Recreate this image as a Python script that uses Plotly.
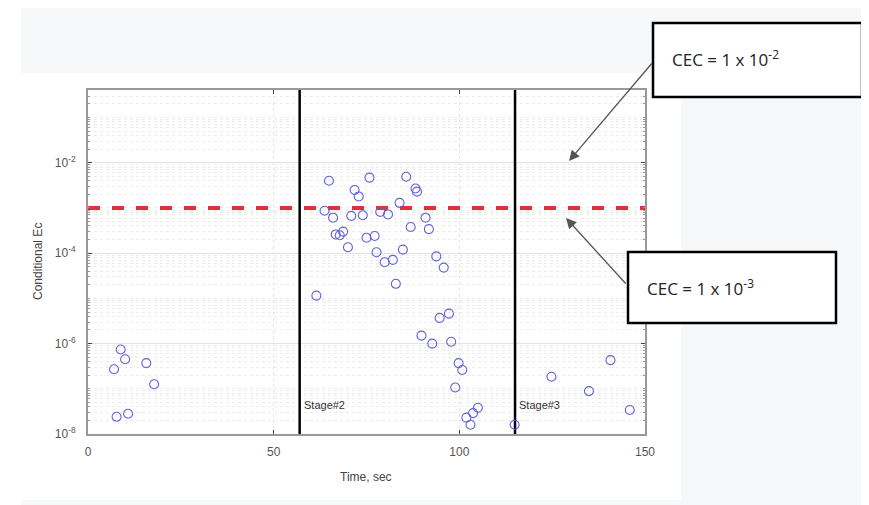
import plotly.graph_objects as go

# ---- data ----
time_sec = [7.0, 8.8, 10.0, 15.7, 17.8, 7.7, 10.8,
            61.5, 64.9, 75.8, 85.7, 71.8, 72.9, 88.2, 88.6, 83.9, 63.7, 66.0, 70.9,
            74.0, 78.7, 80.8, 66.7, 68.7, 67.8, 75.0, 77.2, 70.0, 77.7, 84.8, 79.9,
            82.1, 86.9, 90.9, 91.8, 93.8, 95.8, 82.9, 94.7, 97.2, 89.8, 92.7, 97.8,
            99.8, 100.8, 98.9, 105.0, 103.7, 101.9, 103.0,
            114.9, 124.8, 140.7, 134.9, 145.9]
cond_ec = [2.7e-7, 7.4e-7, 4.5e-7, 3.7e-7, 1.26e-7, 2.4e-8, 2.8e-8,
           1.15e-5, 4.0e-3, 4.7e-3, 4.9e-3, 2.5e-3, 1.8e-3, 2.7e-3, 2.3e-3, 1.3e-3, 8.7e-4, 6.1e-4, 6.7e-4,
           6.9e-4, 8.2e-4, 7.2e-4, 2.6e-4, 3.0e-4, 2.5e-4, 2.2e-4, 2.4e-4, 1.35e-4, 1.05e-4, 1.2e-4, 6.3e-5,
           7.1e-5, 3.8e-4, 6.1e-4, 3.4e-4, 8.5e-5, 4.8e-5, 2.1e-5, 3.7e-6, 4.6e-6, 1.5e-6, 1.0e-6, 1.1e-6,
           3.7e-7, 2.6e-7, 1.07e-7, 3.8e-8, 2.9e-8, 2.3e-8, 1.6e-8,
           1.6e-8, 1.85e-7, 4.3e-7, 8.9e-8, 3.4e-8]
cec_level = 1e-3
stage_times = [57, 115]
stage_labels = ["Stage#2", "Stage#3"]
x_ticks = [0, 50, 100, 150]
y_ticks = [1e-8, 1e-6, 1e-4, 1e-2]
y_tick_text = ["10<sup>-8</sup>", "10<sup>-6</sup>", "10<sup>-4</sup>", "10<sup>-2</sup>"]
callouts = ["CEC = 1 x 10<sup>-2</sup>", "CEC = 1 x 10<sup>-3</sup>"]

OFF = 8                      # page body margin
W, H = 869 - OFF, 505 - OFF
L, R, T, B = 88, 645, 90, 434   # plot area in screen pixels
def px(x):
    return (x - L) / (R - L)
def py(y):
    return (B - y) / (B - T)

fig = go.Figure()
fig.add_trace(go.Scatter(x=[0, 150], y=[cec_level, cec_level], mode="lines",
                         line=dict(color="#e0303a", width=4, dash="12px,12px"),
                         hoverinfo="skip", showlegend=False))
for t in stage_times:
    fig.add_trace(go.Scatter(x=[t, t], y=[1e-8, 10**-0.39], mode="lines",
                             line=dict(color="black", width=2.5),
                             hoverinfo="skip", showlegend=False))
fig.add_trace(go.Scatter(x=time_sec, y=cond_ec, mode="markers",
                         marker=dict(symbol="circle-open", size=9,
                                     color="#6262dc", line=dict(width=1.1)),
                         showlegend=False))

minor_vals = [k * 10.0 ** e for e in range(-8, 0) for k in range(2, 10)] + [10.0 ** e for e in (-7, -5, -3, -1)]
tickfont = dict(family="Liberation Sans", size=12, color="#555")
fig.update_xaxes(range=[0, 150], tickvals=x_ticks, ticks="inside", ticklen=4,
                 showline=True, linecolor="#999", linewidth=2, mirror="ticks",
                 showgrid=True, gridcolor="#e4e4e4", griddash="dot", zeroline=False,
                 tickfont=tickfont, ticklabelstandoff=6)
fig.update_yaxes(type="log", range=[-8, -0.39], tickvals=y_ticks, ticktext=y_tick_text,
                 ticks="inside", ticklen=4, showline=True, linecolor="#999", linewidth=2,
                 mirror="ticks", showgrid=True, gridcolor="#e2e2e2",
                 minor=dict(tickvals=minor_vals, showgrid=True, gridcolor="#ececec",
                            griddash="dot", ticks="inside", ticklen=2, tickcolor="#999"),
                 tickfont=tickfont, ticklabelstandoff=8)

shapes = [
    dict(type="rect", xref="paper", yref="paper", x0=px(21), x1=px(869), y0=py(505), y1=py(OFF),
         fillcolor="#f7f8fa", line=dict(width=0), layer="below"),
    dict(type="rect", xref="paper", yref="paper", x0=px(21), x1=px(681), y0=py(500), y1=py(73),
         fillcolor="white", line=dict(width=0), layer="below"),
    dict(type="rect", xref="paper", yref="paper", x0=px(653), x1=px(862), y0=py(97), y1=py(23),
         fillcolor="white", line=dict(color="black", width=2.5)),
    dict(type="rect", xref="paper", yref="paper", x0=px(628), x1=px(836), y0=py(323), y1=py(252),
         fillcolor="white", line=dict(color="black", width=2.5)),
]

annotations = [
    dict(text="Conditional Ec", xref="paper", yref="paper", x=px(38), y=py(262), textangle=-90,
         xanchor="center", yanchor="middle",
         showarrow=False, font=dict(family="Liberation Sans", size=12, color="#444")),
    dict(text="Time, sec", xref="paper", yref="paper", x=px(366), y=py(477),
         xanchor="center", yanchor="middle",
         showarrow=False, font=dict(family="Liberation Sans", size=12, color="#444")),
    dict(text=stage_labels[0], xref="x", yref="paper", x=stage_times[0], xshift=2, y=py(405),
         xanchor="left", yanchor="middle", showarrow=False,
         font=dict(family="Liberation Sans", size=11, color="#333")),
    dict(text=stage_labels[1], xref="x", yref="paper", x=stage_times[1], xshift=2, y=py(405),
         xanchor="left", yanchor="middle", showarrow=False,
         font=dict(family="Liberation Sans", size=11, color="#333")),
    dict(text=callouts[0], xref="paper", yref="paper", x=px(670), y=py(58), xanchor="left",
         yanchor="middle", showarrow=False, font=dict(family="Open Sans", size=17, color="#222")),
    dict(text=callouts[1], xref="paper", yref="paper", x=px(645), y=py(287), xanchor="left",
         yanchor="middle", showarrow=False, font=dict(family="Open Sans", size=17, color="#222")),
    dict(text="", xref="paper", yref="paper", x=px(569), y=py(161), ax=653 - 569, ay=62 - 161,
         showarrow=True, arrowhead=2, arrowsize=1.6, arrowwidth=1.3, arrowcolor="#555"),
    dict(text="", xref="paper", yref="paper", x=px(566), y=py(218), ax=627 - 566, ay=285 - 218,
         showarrow=True, arrowhead=2, arrowsize=1.6, arrowwidth=1.3, arrowcolor="#555"),
]

fig.update_layout(width=W, height=H, margin=dict(l=L - OFF, r=(869 - R), t=T - OFF, b=(505 - B)),
                  paper_bgcolor="white", plot_bgcolor="white",
                  shapes=shapes, annotations=annotations, showlegend=False)
fig.write_html("out.html")
